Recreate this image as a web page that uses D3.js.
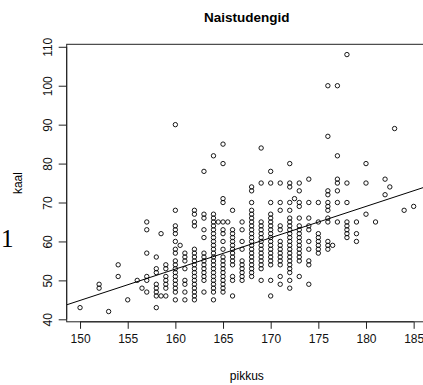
<!DOCTYPE html>
<html>
<head>
<meta charset="utf-8">
<script src="https://cdn.jsdelivr.net/npm/d3@7"></script>
<style>
  html, body { margin: 0; padding: 0; background: #fff; }
  svg { display: block; font-family: "Liberation Sans", Arial, sans-serif; }
</style>
</head>
<body>
<svg id="chart" width="423" height="385"></svg>
<script>
// Students' heights (cm) with the weights (kg) measured at each height
const columns = [
  [150, [43]],
  [152, [48, 49]],
  [153, [42]],
  [154, [51, 54]],
  [155, [45]],
  [156, [50]],
  [156.5, [48]],
  [157, [65, 63, 57, 51, 50, 47]],
  [158, [56, 53, 52, 49, 48, 47, 46, 43]],
  [158.5, [62, 46]],
  [159, [54, 53, 51, 50, 49, 48, 46]],
  [160, [90, 68, 64, 63, 62, 60, 58, 57, 55, 54, 53, 52, 51, 50, 49, 48, 47, 45]],
  [160.5, [59]],
  [161, [57, 56, 55, 53, 50, 49, 47, 45]],
  [162, [68, 67, 65, 64, 58, 57, 56, 55, 54, 53, 52, 51, 50, 49, 48, 47, 46, 45]],
  [163, [78, 67, 66, 63, 61, 57, 56, 55, 54, 53, 52, 51, 50, 47]],
  [164, [82, 67, 66, 65, 64, 63, 62, 61, 60, 59, 58, 57, 56, 55, 54, 53, 52, 51, 50, 49, 48, 47, 45]],
  [164.5, [65]],
  [165, [85, 80, 71, 70, 65, 63, 62, 60, 58, 56, 55, 54, 53, 52, 51, 50, 49, 48, 47]],
  [165.5, [65]],
  [166, [68, 63, 62, 61, 60, 59, 58, 57, 56, 55, 54, 51, 50, 46]],
  [167, [65, 63, 60, 58, 55, 54, 53, 52, 51, 50]],
  [168, [74, 73, 70, 68, 67, 66, 65, 64, 63, 62, 61, 60, 59, 58, 57, 56, 55, 54, 53, 52, 51]],
  [169, [84, 75, 65, 64, 63, 62, 61, 60, 59, 58, 57, 56, 55, 54, 53, 50]],
  [170, [78, 75, 70, 67, 66, 65, 64, 63, 62, 61, 60, 59, 58, 57, 56, 55, 54, 50, 46]],
  [171, [75, 70, 68, 64, 63, 60, 59, 58, 57, 56, 55, 54, 51, 49]],
  [172, [80, 75, 74, 70, 68, 66, 65, 64, 63, 62, 61, 60, 59, 58, 57, 56, 55, 54, 53, 52, 50, 48]],
  [172.5, [71]],
  [173, [75, 73, 70, 69, 66, 64, 63, 62, 61, 60, 59, 58, 57, 56, 55, 51]],
  [174, [76, 70, 66, 64, 63, 60, 58, 55, 54, 49]],
  [175, [70, 65, 62, 61, 60, 59, 58, 57]],
  [176, [100, 87, 73, 72, 70, 69, 68, 66, 65, 60, 59, 58]],
  [176.5, [59]],
  [177, [100, 82, 76, 75, 73, 70, 65]],
  [178, [108, 75, 70, 65, 64, 63, 62, 61]],
  [179, [65, 62, 60]],
  [180, [80, 75, 67]],
  [181, [65]],
  [182, [76, 72]],
  [182.5, [74]],
  [183, [89]],
  [184, [68]],
  [185, [69]]
];

const xTicks = [150, 155, 160, 165, 170, 175, 180, 185];
const yTicks = [40, 50, 60, 70, 80, 90, 100, 110];

// Least-squares fit kaal ~ pikkus
const fitIntercept = -75.9;
const fitSlope = 0.805;

const title = "Naistudengid";
const xLabel = "pikkus";
const yLabel = "kaal";

const points = columns.flatMap(([h, ws]) => ws.map(w => ({ h, w })));

const plot = { left: 66.7, right: 427, top: 44.3, bottom: 321.8 };

// R-style axis limits: data range widened by 4% on both sides
function padded(ext) {
  const d = (ext[1] - ext[0]) * 0.04;
  return [ext[0] - d, ext[1] + d];
}
const xDom = padded(d3.extent(points, d => d.h));
const yDom = padded(d3.extent(points, d => d.w));

const x = d3.scaleLinear().domain(xDom).range([plot.left, plot.right]);
const y = d3.scaleLinear().domain(yDom).range([plot.bottom, plot.top]);

const svg = d3.select("#chart");

svg.append("defs").append("clipPath").attr("id", "plotclip")
  .append("rect")
  .attr("x", plot.left).attr("y", plot.top)
  .attr("width", plot.right - plot.left).attr("height", plot.bottom - plot.top);

// points
svg.append("g")
  .selectAll("circle")
  .data(points)
  .join("circle")
  .attr("cx", d => x(d.h))
  .attr("cy", d => y(d.w))
  .attr("r", 2.2)
  .attr("fill", "none")
  .attr("stroke", "#000")
  .attr("stroke-width", 0.9);

// regression line
svg.append("line")
  .attr("clip-path", "url(#plotclip)")
  .attr("x1", x(xDom[0])).attr("y1", y(fitIntercept + fitSlope * xDom[0]))
  .attr("x2", x(xDom[1])).attr("y2", y(fitIntercept + fitSlope * xDom[1]))
  .attr("stroke", "#000")
  .attr("stroke-width", 1);

// frame
svg.append("rect")
  .attr("x", plot.left).attr("y", plot.top)
  .attr("width", plot.right - plot.left).attr("height", plot.bottom - plot.top)
  .attr("fill", "none").attr("stroke", "#222").attr("stroke-width", 1);

// x axis
const xAxis = d3.axisBottom(x).tickValues(xTicks).tickSize(7).tickPadding(6).tickFormat(d3.format("d"));
const gx = svg.append("g").attr("transform", `translate(0,${plot.bottom})`).call(xAxis);
gx.select(".domain").attr("d", `M${x(xTicks[0])},0H${x(xTicks[xTicks.length - 1])}`).attr("stroke", "#222");
gx.selectAll(".tick line").attr("stroke", "#222");
gx.selectAll("text").attr("font-size", 12).attr("font-family", "Liberation Sans, Arial, sans-serif").attr("fill", "#111");

// y axis, labels parallel to the axis
const yAxis = d3.axisLeft(y).tickValues(yTicks).tickSize(8).tickFormat(d3.format("d"));
const gy = svg.append("g").attr("transform", `translate(${plot.left},0)`).call(yAxis);
gy.select(".domain").attr("d", `M0,${y(yTicks[0])}V${y(yTicks[yTicks.length - 1])}`).attr("stroke", "#222");
gy.selectAll(".tick line").attr("stroke", "#222");
gy.selectAll("text")
  .attr("x", null).attr("dy", null)
  .attr("text-anchor", "middle")
  .attr("transform", "translate(-14.5,0) rotate(-90)")
  .attr("font-size", 12).attr("font-family", "Liberation Sans, Arial, sans-serif").attr("fill", "#111");

// titles
svg.append("text")
  .attr("x", (plot.left + plot.right) / 2).attr("y", 22)
  .attr("text-anchor", "middle")
  .attr("font-size", 13.5).attr("font-weight", "bold")
  .text(title);

svg.append("text")
  .attr("x", (plot.left + plot.right) / 2).attr("y", 380)
  .attr("text-anchor", "middle")
  .attr("font-size", 12)
  .text(xLabel);

svg.append("text")
  .attr("transform", `translate(21.5,${(plot.top + plot.bottom) / 2}) rotate(-90)`)
  .attr("text-anchor", "middle")
  .attr("font-size", 12)
  .text(yLabel);

svg.append("text")
  .attr("x", 1).attr("y", 247)
  .attr("font-family", "Liberation Serif, Times New Roman, serif")
  .attr("font-size", 25)
  .text("1");
</script>
</body>
</html>
